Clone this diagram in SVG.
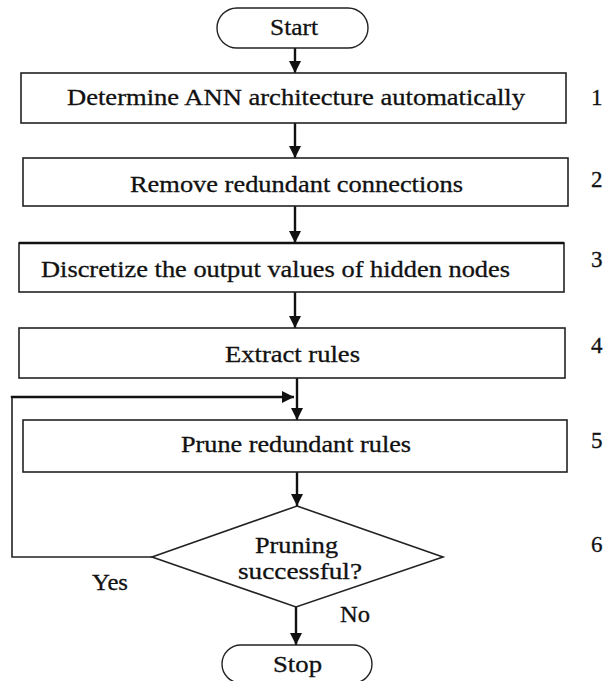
<svg xmlns="http://www.w3.org/2000/svg" width="603" height="681" viewBox="0 0 603 681">
  <style>
    .box { fill: #ffffff; stroke: #222222; stroke-width: 1.6; }
    .term { fill: #ffffff; stroke: #222222; stroke-width: 1.4; }
    text { font-size: 23px; fill: #111111; stroke: #111111; stroke-width: 0.3; }
    .conn { fill: none; stroke: #111111; stroke-width: 2.4; }
    .thin { fill: none; stroke: #222222; stroke-width: 1.6; }
  </style>
  <defs>
    <marker id="arrow" viewBox="0 0 10 10" refX="10" refY="5" markerWidth="12" markerHeight="12" markerUnits="userSpaceOnUse" orient="auto">
      <path d="M0,0 L10,5 L0,10 z" fill="#111111" stroke="none"/>
    </marker>
  </defs>

  <rect width="603" height="681" fill="#ffffff"/>

  <!-- connectors and branch labels -->
  <g id="connectors" font-family="Liberation Serif">
    <line class="conn" x1="295" y1="48" x2="295" y2="73" marker-end="url(#arrow)"/>
    <line class="conn" x1="295" y1="123" x2="295" y2="158" marker-end="url(#arrow)"/>
    <line class="conn" x1="295" y1="206" x2="295" y2="243" marker-end="url(#arrow)"/>
    <line class="conn" x1="295" y1="292" x2="295" y2="328" marker-end="url(#arrow)"/>
    <line class="conn" x1="297" y1="378" x2="297" y2="420" marker-end="url(#arrow)"/>
    <line class="conn" x1="297" y1="472" x2="297" y2="506" marker-end="url(#arrow)"/>
    <line class="conn" x1="296" y1="607" x2="296" y2="645" marker-end="url(#arrow)"/>
    <!-- "Yes" loop back above step 5 -->
    <polyline class="thin" points="152,557 12,557 12,397"/>
    <polyline class="conn" points="12,398 12,397 294,397" marker-end="url(#arrow)"/>
    <text x="92" y="590" textLength="36" lengthAdjust="spacingAndGlyphs">Yes</text>
    <text x="340" y="622" textLength="30" lengthAdjust="spacingAndGlyphs">No</text>
  </g>

  <g id="start" font-family="Liberation Serif">
    <rect class="term" x="217" y="8" width="151" height="40" rx="20" ry="20"/>
    <text x="270" y="35" textLength="48" lengthAdjust="spacingAndGlyphs">Start</text>
  </g>

  <g id="step1" font-family="Liberation Serif">
    <rect class="box" x="21" y="73" width="545" height="50"/>
    <text x="67" y="105" textLength="458" lengthAdjust="spacingAndGlyphs">Determine ANN architecture automatically</text>
    <text x="591" y="105">1</text>
  </g>

  <g id="step2" font-family="Liberation Serif">
    <rect class="box" x="23" y="158" width="545" height="48"/>
    <text x="130" y="192" textLength="333" lengthAdjust="spacingAndGlyphs">Remove redundant connections</text>
    <text x="591" y="187">2</text>
  </g>

  <g id="step3" font-family="Liberation Serif">
    <rect class="box" x="19" y="243" width="545" height="49"/>
    <line x1="19" y1="243" x2="564" y2="243" stroke="#111111" stroke-width="2.4"/>
    <text x="41" y="277" textLength="469" lengthAdjust="spacingAndGlyphs">Discretize the output values of hidden nodes</text>
    <text x="591" y="267">3</text>
  </g>

  <g id="step4" font-family="Liberation Serif">
    <rect class="box" x="19" y="328" width="546" height="50"/>
    <text x="225" y="362" textLength="135" lengthAdjust="spacingAndGlyphs">Extract rules</text>
    <text x="591" y="353">4</text>
  </g>

  <g id="step5" font-family="Liberation Serif">
    <rect class="box" x="23" y="420" width="544" height="52"/>
    <text x="181" y="452" textLength="230" lengthAdjust="spacingAndGlyphs">Prune redundant rules</text>
    <text x="591" y="448">5</text>
  </g>

  <g id="step6" font-family="Liberation Serif">
    <polygon class="box" points="297,506 443,557 296,607 152,557"/>
    <text x="255" y="553" textLength="83" lengthAdjust="spacingAndGlyphs">Pruning</text>
    <text x="238" y="579" textLength="124" lengthAdjust="spacingAndGlyphs">successful?</text>
    <text x="591" y="552">6</text>
  </g>

  <g id="stop" font-family="Liberation Serif">
    <rect class="term" x="222" y="645" width="150" height="38" rx="19" ry="19"/>
    <text x="273" y="672" textLength="49" lengthAdjust="spacingAndGlyphs">Stop</text>
  </g>
</svg>
